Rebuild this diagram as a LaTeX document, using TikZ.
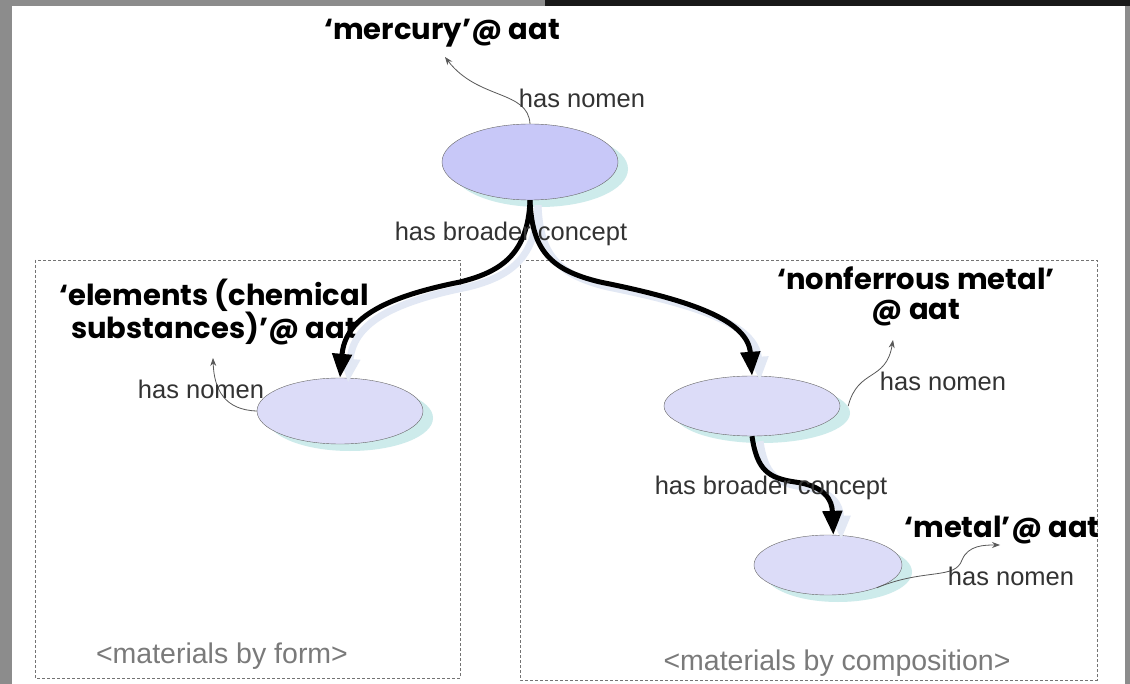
\documentclass[tikz,border=0pt]{standalone}
\usepackage{fontspec}
\setmainfont{Liberation Sans}
\newfontfamily\headfont{Poppins}
\usetikzlibrary{positioning,shapes.geometric,shadows,arrows.meta}

\definecolor{conceptfill}{HTML}{DCDCF8}
\definecolor{topfill}{HTML}{C8C8F8}
\definecolor{shadowteal}{HTML}{CDEBEB}
\definecolor{arrowshade}{HTML}{E2E8F4}
\definecolor{labelgray}{HTML}{333333}
\definecolor{boxgray}{HTML}{7A7A7A}

\tikzset{
	conceptnode/.style={ellipse, draw=black!60, fill=conceptfill, thin, minimum width=166pt, minimum height=66pt,
		drop shadow={shadow xshift=10pt, shadow yshift=-7pt, fill=shadowteal, opacity=1}},
	termtext/.style={font=\headfont\bfseries\fontsize{29}{30}\selectfont, align=center, inner sep=0pt},
	nomentext/.style={font=\fontsize{25.5}{28}\selectfont, text=labelgray, inner sep=0pt},
	grouptext/.style={font=\fontsize{28.5}{30}\selectfont, text=boxgray, inner sep=0pt},
	broader/.style={line width=5pt, -{Triangle[length=24pt,width=19pt]},
		preaction={draw=arrowshade, line width=7pt, transform canvas={xshift=8pt,yshift=-5pt}}},
	nomen/.style={draw=black!65, line width=0.8pt, -{Stealth[length=8pt,width=6pt]}},
	groupbox/.style={draw=black!55, densely dashed, line width=0.8pt}
}

\begin{document}
\begin{tikzpicture}[x=1pt,y=-1pt]
	
	% screen frame
	\fill[black!45] (0,0) rectangle (1130,684);
	\fill[black!90] (545,0) rectangle (1130,6);
	\fill[white] (12,6) rectangle (1125,684);
	
	\draw[groupbox] (35,260) rectangle (460,678);
	\draw[groupbox] (520,260) rectangle (1097,680);
	
	\node[conceptnode, fill=topfill, minimum width=176pt, minimum height=76pt] at (530,162) (top) {};
	\node[conceptnode] at (340,411) (form) {};
	\node[conceptnode, minimum width=176pt, minimum height=60pt] at (752,406) (nonf) {};
	\node[conceptnode, minimum width=148pt, minimum height=60pt] at (828,565) (metal) {};
	
	\node[termtext] at (442,33) (topt) {‘mercury’@ aat};
	\node[termtext] at (214,312) (formt) {‘elements (chemical\\substances)’@ aat};
	\node[termtext] at (916,296) (nonft) {‘nonferrous metal’\\@ aat};
	\node[termtext] at (1002,530) (metalt) {‘metal’@ aat};
	
	\coordinate (topn) at (445,57);
	\coordinate (formn) at (213,358);
	\coordinate (nonfn) at (893,340);
	\coordinate (metaln) at (1000,545);
	
	\draw[broader] (top.south) .. controls (528,255) and (500,272) .. (460,282) .. controls (380,298) and (345,320) .. (form.north);
	\draw[broader] (top.south) .. controls (532,250) and (550,270) .. (600,282) .. controls (690,300) and (748,320) .. (nonf.north);
	\draw[broader] (nonf.south) .. controls (757,470) and (768,478) .. (795,482) .. controls (825,486) and (832,500) .. (metal.80);
	
	\draw[nomen] (top.north) .. controls (528,90) and (478,100) .. (topn);
	\draw[nomen] (form.west) .. controls (225,410) and (214,390) .. (formn);
	\draw[nomen] ([xshift=8pt]nonf.east) .. controls (858,368) and (886,382) .. (nonfn);
	\draw[nomen] (metal.-25) .. controls (925,568) and (955,580) .. (962,560) .. controls (968,545) and (985,545) .. (metaln);
	
	\node[nomentext] at (582,98) (topnm) {has nomen};
	\node[nomentext] at (511,234) (topbc) {has broader concept};
	\node[nomentext] at (201,389) (formnm) {has nomen};
	\node[nomentext] at (943,381) (nonfnm) {has nomen};
	\node[nomentext] at (771,488) (nonfbc) {has broader concept};
	\node[nomentext] at (1011,576) (metalnm) {has nomen};
	
	\node[grouptext] at (222,656) (formg) {<materials by form>};
	\node[grouptext] at (837,663) (compg) {<materials by composition>};
\end{tikzpicture}
\end{document}
